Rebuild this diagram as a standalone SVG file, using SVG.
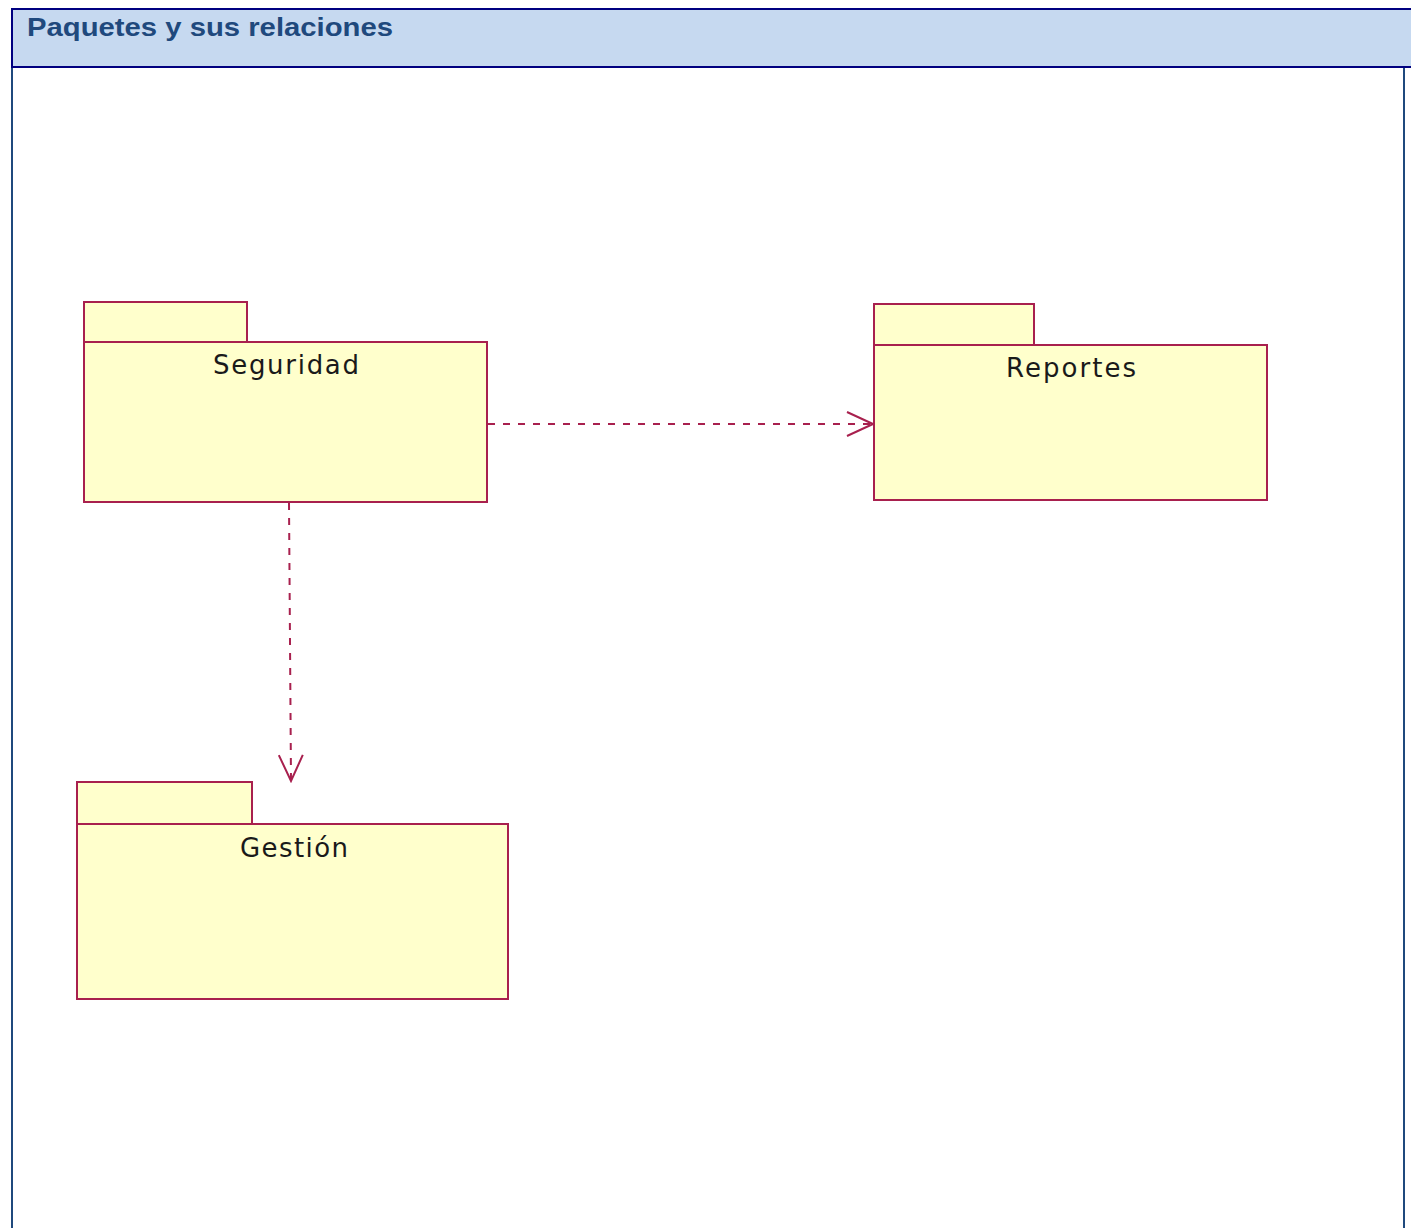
<svg xmlns="http://www.w3.org/2000/svg" width="1411" height="1228" viewBox="0 0 1411 1228">
  <defs>
    <style>
      .frame-side { stroke: #1f497d; stroke-width: 2; fill: none; }
      .header { fill: #c6d9f0; stroke: #000080; stroke-width: 2; }
      .title { font-family: "Liberation Sans", Arial, sans-serif; font-weight: bold; font-size: 26px; fill: #1f497d; }
      .pkg { fill: #ffffcc; stroke: #a8204e; stroke-width: 2; }
      .pkg-label { font-family: "DejaVu Sans", "Liberation Sans", sans-serif; font-size: 26px; fill: #1a1a1a; text-anchor: middle; }
      .dep { stroke: #a8204e; stroke-width: 2; fill: none; stroke-dasharray: 7 8; }
    </style>
    <marker id="open-arrow" viewBox="0 0 30 26" refX="28" refY="13" markerWidth="30" markerHeight="26" markerUnits="userSpaceOnUse" orient="auto">
      <path d="M2,1 L28,13 L2,25" fill="none" stroke="#a8204e" stroke-width="2"/>
    </marker>
  </defs>

  <rect width="1411" height="1228" fill="#ffffff"/>

  <!-- frame sides below the header -->
  <line class="frame-side" x1="12" y1="67" x2="12" y2="1228"/>
  <line class="frame-side" x1="1404" y1="67" x2="1404" y2="1228"/>

  <!-- header band -->
  <g id="header">
    <rect class="header" x="12" y="9" width="1405" height="58"/>
    <text class="title" x="27" y="36" textLength="366" lengthAdjust="spacingAndGlyphs">Paquetes y sus relaciones</text>
  </g>

  <!-- packages -->
  <g id="pkg-seguridad">
    <rect class="pkg" x="84" y="302" width="163" height="40"/>
    <rect class="pkg" x="84" y="342" width="403" height="160"/>
    <text class="pkg-label" x="286" y="374" textLength="146" lengthAdjust="spacing">Seguridad</text>
  </g>

  <g id="pkg-reportes">
    <rect class="pkg" x="874" y="304" width="160" height="41"/>
    <rect class="pkg" x="874" y="345" width="393" height="155"/>
    <text class="pkg-label" x="1071" y="377" textLength="130" lengthAdjust="spacing">Reportes</text>
  </g>

  <g id="pkg-gestion">
    <rect class="pkg" x="77" y="782" width="175" height="42"/>
    <rect class="pkg" x="77" y="824" width="431" height="175"/>
    <text class="pkg-label" x="294" y="857" textLength="108" lengthAdjust="spacing">Gestión</text>
  </g>

  <!-- dependencies -->
  <g id="connectors">
    <line class="dep" x1="488" y1="424" x2="873" y2="424" marker-end="url(#open-arrow)"/>
    <line class="dep" x1="289" y1="503" x2="291" y2="781" marker-end="url(#open-arrow)"/>
  </g>
</svg>
